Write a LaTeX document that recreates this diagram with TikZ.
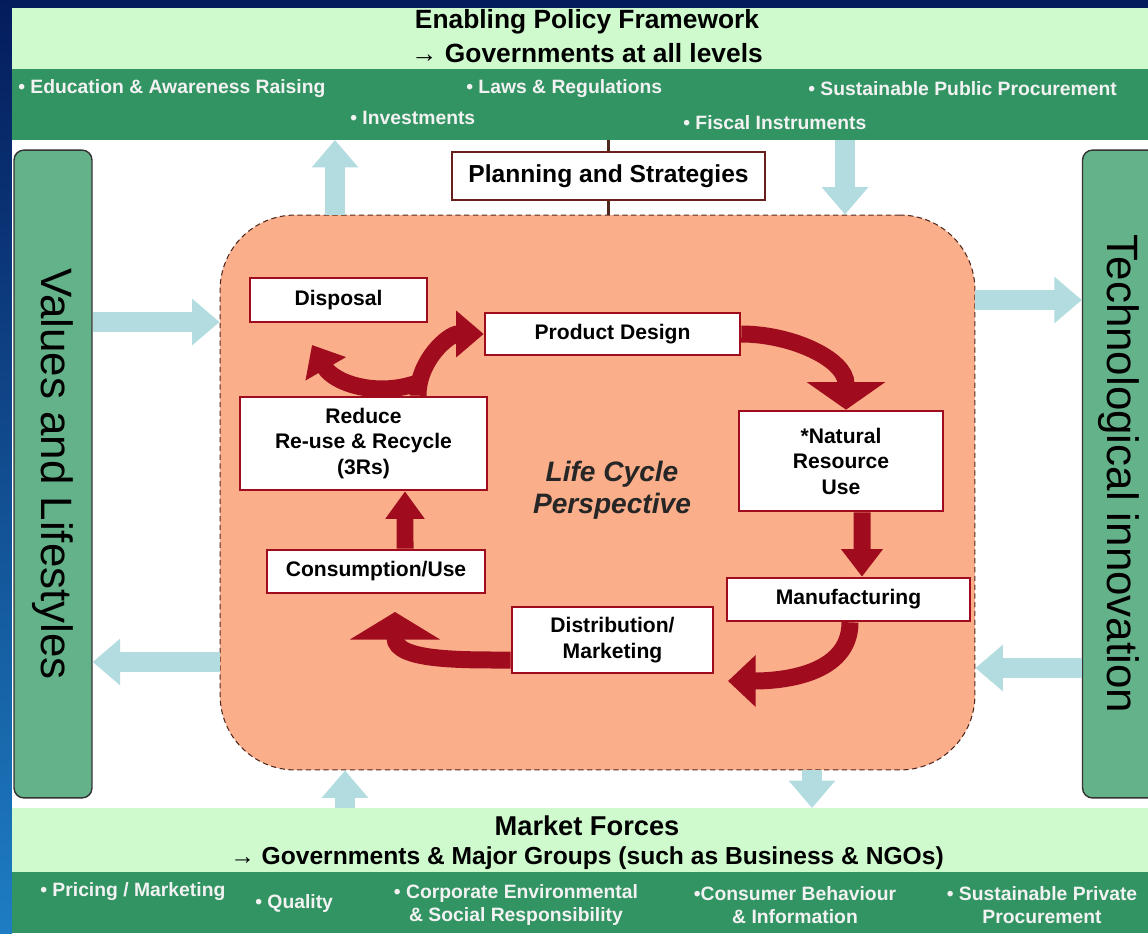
\documentclass[tikz,border=0pt]{standalone}
\usepackage{fontspec}
\setmainfont{Liberation Sans}
\usetikzlibrary{arrows.meta}
\definecolor{navy}{RGB}{4,28,92}
\definecolor{deepblue}{RGB}{30,125,195}
\definecolor{palegreen}{RGB}{206,250,206}
\definecolor{bandgreen}{RGB}{50,148,98}
\definecolor{sidegreen}{RGB}{100,178,138}
\definecolor{peach}{RGB}{250,174,138}
\definecolor{lcred}{RGB}{160,12,30}
\definecolor{linkblue}{RGB}{178,220,224}
\definecolor{rim}{RGB}{80,40,30}
\tikzstyle{band} = [rectangle, minimum width=22.72cm, inner sep=0pt, outer sep=0pt]
\tikzstyle{sidebox} = [rectangle, rounded corners=0.2cm, fill=sidegreen, draw=black!80, line width=0.8pt, minimum width=1.56cm, minimum height=12.96cm, inner sep=0pt]
\tikzstyle{stage} = [rectangle, fill=white, draw=lcred, line width=1.5pt, inner sep=0pt, align=center, font=\fontsize{12}{14.5}\selectfont\bfseries]
\tikzstyle{flow} = [draw=lcred, line width=0.34cm]
\tikzstyle{link} = [draw=linkblue, line width=0.4cm, -{Triangle[width=0.9cm,length=0.55cm]}]
\tikzstyle{bullets} = [text=white!95!black, font=\fontsize{11}{13.5}\selectfont\bfseries, inner sep=0pt, align=center]
\tikzstyle{heading} = [font=\fontsize{15}{17}\selectfont\bfseries, inner sep=0pt]
\tikzstyle{sidetext} = [rotate=-90, font=\fontsize{25}{28}\selectfont, inner sep=0pt]
\tikzset{flowhead/.style={-{Triangle[width=#1,length=0.55cm]}}}

\begin{document}
\begin{tikzpicture}[x=0.02cm, y=0.02cm]
\useasboundingbox (0,0) rectangle (1148,-933);

% Frame
\fill[navy] (0,0) rectangle (1148,-933);
\shade[top color=navy, bottom color=deepblue] (0,0) rectangle (12,-933);

% Bands
\node[band, fill=palegreen, minimum height=1.22cm]  (policy)      at (580,-38.5) {};
\node[band, fill=bandgreen, minimum height=1.42cm]  (policytools) at (580,-104.5) {};
\fill[white] (12,-140) rectangle (1148,-808);
\node[band, fill=palegreen, minimum height=1.28cm]  (market)      at (580,-840) {};
\node[band, fill=bandgreen, minimum height=1.22cm]  (markettools) at (580,-902.5) {};

% Side boxes
\node[sidebox] (values) at (53,-474) {};
\node[sidebox, minimum width=1.5cm] (tech) at (1120,-474) {};
\node[sidetext] (valuestext) at (values) {Values and Lifestyles};
\node[sidetext] (techtext) at ([xshift=-0.02cm]tech) {Technological innovation};

% Life cycle area
\node[rectangle, rounded corners=1.5cm, fill=peach, draw=rim, densely dashed, line width=0.6pt,
      minimum width=15.1cm, minimum height=11.1cm, inner sep=0pt] (lc) at (597.5,-492.5) {};
\node[font=\fontsize{16}{18.5}\selectfont\bfseries\itshape, text=black!85, align=center] (lctext) at (612,-490) {Life Cycle\\Perspective};

% Planning
\node[stage, font=\fontsize{14}{16}\selectfont\bfseries, draw=rim!70!lcred, line width=1.2pt,
      minimum width=6.26cm, minimum height=0.96cm] (plan) at (608.5,-176) {Planning and Strategies};
\draw[rim, line width=1.2pt] (plan.north) -- (plan.north |- policytools.south);
\draw[rim, line width=1.2pt] (plan.south) -- (plan.south |- lc.north);

% Stages
\node[stage, minimum width=3.54cm, minimum height=0.88cm] (disp) at (338.5,-300)   {Disposal};
\node[stage, minimum width=5.1cm,  minimum height=0.84cm] (pd)   at (612.5,-334)   {Product Design};
\node[stage, minimum width=4.94cm, minimum height=1.86cm] (rr)   at (363.5,-443.5) {Reduce\\Re-use \& Recycle\\(3Rs)};
\node[stage, minimum width=4.08cm, minimum height=2.0cm]  (nr)   at (841,-461)     {*Natural\\Resource\\Use};
\node[stage, minimum width=4.36cm, minimum height=0.86cm] (cons) at (376,-571.5)   {Consumption/Use};
\node[stage, minimum width=4.86cm, minimum height=0.86cm] (mf)   at (848.5,-599.5) {Manufacturing};
\node[stage, minimum width=4.02cm, minimum height=1.32cm] (dist) at (612.5,-640)   {Distribution/\\Marketing};

% Link points
\coordinate (pol-up)   at (335,0);
\coordinate (pol-down) at (845,0);
\coordinate (val-in)   at (0,-322);
\coordinate (val-out)  at (0,-662);
\coordinate (tec-out)  at (0,-300);
\coordinate (tec-in)   at (0,-668);
\coordinate (mkt-up)   at (345,0);
\coordinate (mkt-down) at (812,0);
\coordinate (dispEnd)  at (312,-345);
\coordinate (mfEnd)    at (728,-681);
\coordinate (distEnd)  at (395,-612);

% Links
\draw[link] (lc.north -| pol-up) -- (policytools.south -| pol-up);
\draw[link] (policytools.south -| pol-down) -- (lc.north -| pol-down);
\draw[link] (values.east |- val-in) -- (lc.west |- val-in);
\draw[link] (lc.west |- val-out) -- (values.east |- val-out);
\draw[link] (lc.east |- tec-out) -- (tech.west |- tec-out);
\draw[link] (tech.west |- tec-in) -- (lc.east |- tec-in);
\draw[link] (market.north -| mkt-up) -- (lc.south -| mkt-up);
\draw[link] (lc.south -| mkt-down) -- (market.north -| mkt-down);

% Flows
\draw[flow, flowhead=0.9cm] ([xshift=1.09cm]rr.north) to[out=90,in=180] (pd.west);
\draw[flow, flowhead=0.9cm] ([xshift=1.09cm,yshift=0.26cm]rr.north) to[out=200,in=-60] (dispEnd);
\draw[flow, flowhead=1.54cm] (pd.east) to[out=0,in=90] ([xshift=0.1cm]nr.north);
\draw[flow, flowhead=0.8cm] ([xshift=0.42cm]nr.south) -- ([xshift=0.27cm]mf.north);
\draw[flow, flowhead=1.0cm] ([xshift=0.03cm]mf.south) to[out=-90,in=0] (mfEnd);
\draw[flow, flowhead=1.78cm] ([yshift=-0.4cm]dist.west) to[out=180,in=-90] (distEnd);
\draw[flow, flowhead=0.75cm] ([xshift=0.58cm]cons.north) -- ([xshift=0.83cm]rr.south);

% Band texts
\node[heading] (policyhead) at (587,-22) {Enabling Policy Framework};
\node[heading] (policysub)  at (587,-53) {→ Governments at all levels};
\node[bullets, anchor=west] (edu)    at (18,-89)   {• Education \& Awareness Raising};
\node[bullets, anchor=west] (laws)   at (466,-89)  {• Laws \& Regulations};
\node[bullets, anchor=west] (spp)    at (808,-89)  {• Sustainable Public Procurement};
\node[bullets, anchor=west] (invest) at (350,-118) {• Investments};
\node[bullets, anchor=west] (fiscal) at (683,-123) {• Fiscal Instruments};

\node[heading, font=\fontsize{15.5}{17}\selectfont\bfseries] (markethead) at (587,-826) {Market Forces};
\node[heading, font=\fontsize{14}{17}\selectfont\bfseries]   (marketsub)  at (587,-858) {→ Governments \& Major Groups (such as Business \& NGOs)};
\node[bullets, anchor=west] (pricing) at (40,-892)  {• Pricing / Marketing};
\node[bullets, anchor=west] (quality) at (255,-903) {• Quality};
\node[bullets] (csr)    at (516,-905)  {• Corporate Environmental\\\& Social Responsibility};
\node[bullets] (consum) at (795,-905)  {•Consumer Behaviour\\ \& Information};
\node[bullets] (sprp)   at (1042,-905) {• Sustainable Private\\Procurement};

\end{tikzpicture}
\end{document}
